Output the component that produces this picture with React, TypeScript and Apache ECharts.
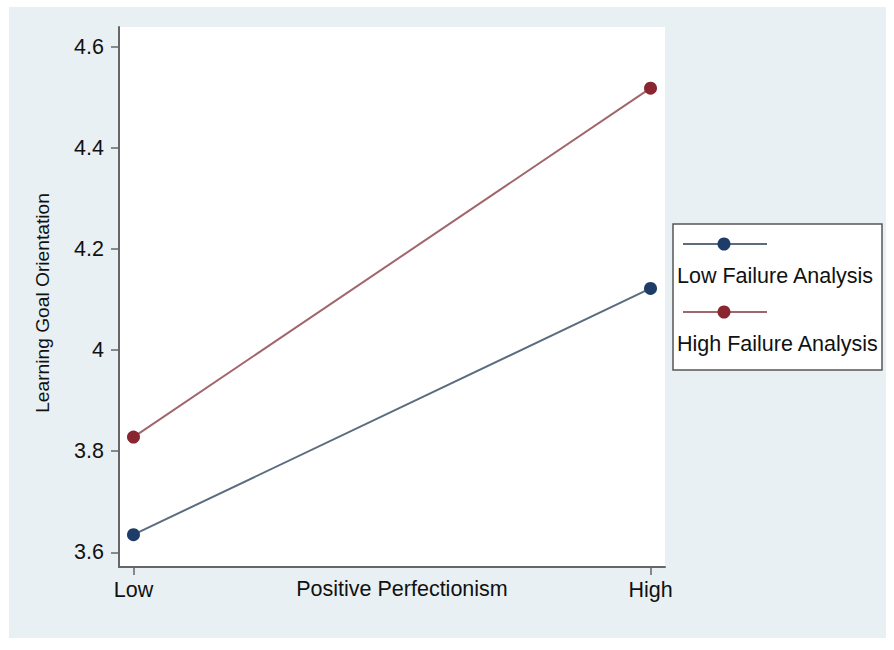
import React, { useEffect, useRef } from "react";
import * as echarts from "echarts";

const xCategories = ["Low", "High"];
const xPositions = [0, 1];
const lowFailure = [3.635, 4.122];
const highFailure = [3.828, 4.518];
const yTicks = [3.6, 3.8, 4.0, 4.2, 4.4, 4.6];
const seriesNames = ["Low Failure Analysis", "High Failure Analysis"];

const FONT = "'Liberation Sans', Arial, sans-serif";
const FS = 21.5;

export default function App() {
  const ref = useRef<HTMLDivElement>(null);
  useEffect(() => {
    if (!ref.current) return;
    const chart = echarts.init(ref.current, null, { renderer: "svg" });
    const lineColors = ["#5a6c7e", "#a0666c"];
    const dotColors = ["#1d3d68", "#8a2630"];
    const mk = (vals: number[], i: number) => ({
      name: seriesNames[i],
      type: "line",
      data: xPositions.map((x, k) => [x, vals[k]]),
      symbol: "circle",
      symbolSize: 13,
      lineStyle: { color: lineColors[i], width: 2 },
      itemStyle: { color: dotColors[i] },
    });
    const legendEls: any[] = [
      {
        type: "rect",
        shape: { x: 673, y: 224, width: 209, height: 146 },
        style: { fill: "#ffffff", stroke: "#555", lineWidth: 1.5 },
      },
    ];
    const rows = [244, 312];
    seriesNames.forEach((n, i) => {
      legendEls.push({
        type: "line",
        shape: { x1: 683, y1: rows[i], x2: 767, y2: rows[i] },
        style: { stroke: lineColors[i], lineWidth: 2 },
      });
      legendEls.push({
        type: "circle",
        shape: { cx: 724, cy: rows[i], r: 6.5 },
        style: { fill: dotColors[i] },
      });
      legendEls.push({
        type: "text",
        x: 677,
        y: rows[i] + 32,
        style: {
          text: n,
          font: `${FS}px ${FONT}`,
          fill: "#111",
          textVerticalAlign: "middle",
        },
      });
    });
    chart.setOption({
      animation: false,
      backgroundColor: "#ffffff",
      graphic: [
        {
          type: "rect",
          z: -10,
          shape: { x: 9, y: 7, width: 877, height: 631 },
          style: { fill: "#e8f0f4" },
        },
        ...legendEls,
      ],
      grid: {
        left: 119,
        top: 27,
        right: 229,
        bottom: 83,
        show: true,
        backgroundColor: "#ffffff",
        borderWidth: 0,
      },
      xAxis: {
        type: "value",
        min: -0.028,
        max: 1.028,
        name: "Positive Perfectionism",
        nameLocation: "middle",
        nameGap: 22,
        nameMoveOverlap: false,
        nameTextStyle: {
          fontFamily: FONT,
          fontSize: FS,
          color: "#111",
          verticalAlign: "middle",
          padding: [0, 0, 0, 20],
        },
        axisLine: { show: true, onZero: false, lineStyle: { color: "#666", width: 2 } },
        axisTick: {
          show: true,
          length: 8,
          customValues: xPositions,
          lineStyle: { color: "#666", width: 1.5 },
        },
        axisLabel: {
          customValues: xPositions,
          formatter: (v: number) => xCategories[Math.round(v)] ?? "",
          fontFamily: FONT,
          fontSize: FS,
          color: "#111",
          margin: 12,
        },
        splitLine: { show: false },
      },
      yAxis: {
        type: "value",
        min: 3.571,
        max: 4.639,
        name: "Learning Goal Orientation",
        nameLocation: "middle",
        nameRotate: 90,
        nameGap: 67,
        nameMoveOverlap: false,
        nameTextStyle: {
          fontFamily: FONT,
          fontSize: 19.2,
          color: "#111",
          padding: [0, 12, 0, 0],
        },
        axisLine: { show: true, onZero: false, lineStyle: { color: "#666", width: 2 } },
        axisTick: {
          show: true,
          length: 8,
          customValues: yTicks,
          lineStyle: { color: "#666", width: 1.5 },
        },
        axisLabel: {
          customValues: yTicks,
          formatter: (v: number) => String(+v.toFixed(1)),
          fontFamily: FONT,
          fontSize: FS,
          color: "#111",
          margin: 15,
        },
        splitLine: { show: false },
      },
      series: [mk(lowFailure, 0), mk(highFailure, 1)],
    });
    return () => chart.dispose();
  }, []);
  return (
    <div
      ref={ref}
      style={{ position: "fixed", left: 0, top: 0, width: 894, height: 650 }}
    />
  );
}
